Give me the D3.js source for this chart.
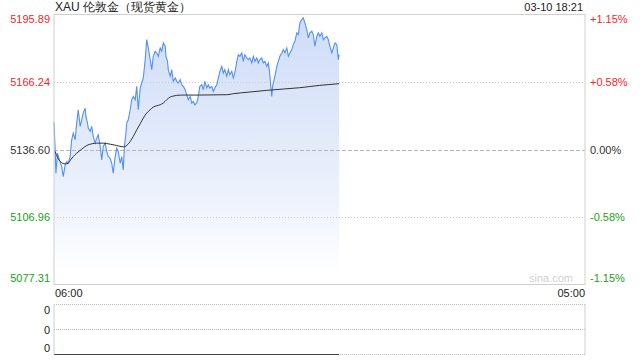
<!DOCTYPE html>
<html><head><meta charset="utf-8">
<script src="https://cdn.jsdelivr.net/npm/d3@7"></script>
<style>body{margin:0;background:#fff}svg{display:block;font-family:"Liberation Sans",Arial,sans-serif}</style>
</head><body><svg id="c" width="640" height="360"></svg>
<script>
const title = "XAU 伦敦金（现货黄金）";
const stamp = "03-10 18:21";
const priceTicks = [5195.89, 5166.24, 5136.60, 5106.96, 5077.31];
const pctTicks = ["+1.15%", "+0.58%", "0.00%", "-0.58%", "-1.15%"];
const timeLabels = ["06:00", "05:00"];
const volTicks = ["0", "0", "0"];
// minutes after 06:00
const priceMinutes = [0,3,5,9,14,20,24,29,33,37,42,46,50,55,59,63,68,72,76,81,83,87,89,94,98,102,107,111,115,120,124,128,133,137,141,146,150,154,159,163,167,172,176,180,183,187,189,193,198,202,206,211,215,219,224,228,232,237,241,245,250,254,258,263,267,271,276,280,284,289,291,295,297,302,306,310,315,319,323,328,332,336,341,345,349,354,358,362,366,371,375,379,384,388,392,397,401,405,410,414,418,423,427,431,436,440,444,449,453,457,462,466,470,475,479,483,488,492,496,501,505,509,514,518,522,527,531,535,540,544,548,553,557,560,563,566,568,572,574,579,583,587,592,596,600,605,609,613,618,622,626,631,635,639,644,648,652,657,661,665,670,674,678,683,687,691,696,700,704,709,713,717,722,726,730,735,739,741];
const priceValues = [5148.63,5136.44,5126.17,5134.98,5132.04,5129.10,5124.70,5129.84,5131.31,5130.57,5133.51,5140.85,5143.78,5140.85,5148.19,5154.06,5146.72,5149.65,5152.59,5154.79,5151.12,5148.19,5145.98,5144.51,5146.72,5142.31,5139.38,5141.58,5143.05,5137.91,5132.04,5137.91,5139.38,5135.71,5133.51,5132.77,5130.57,5126.17,5133.51,5137.18,5135.71,5130.57,5133.51,5127.64,5137.91,5143.78,5148.19,5149.65,5154.06,5158.46,5159.93,5158.46,5164.33,5154.06,5163.60,5165.80,5168.00,5176.07,5184.88,5181.21,5176.07,5171.67,5177.54,5179.74,5179.01,5177.54,5181.21,5179.74,5183.41,5181.94,5177.54,5175.34,5171.67,5168.73,5171.67,5166.53,5168.00,5166.53,5165.80,5167.27,5165.06,5164.33,5162.86,5160.66,5158.46,5159.93,5156.99,5157.72,5156.26,5156.99,5159.93,5164.33,5165.06,5162.86,5166.53,5163.60,5165.06,5163.60,5164.33,5162.13,5163.60,5165.06,5168.00,5170.93,5173.14,5170.20,5171.67,5168.73,5171.67,5169.47,5170.93,5168.00,5170.20,5175.34,5178.27,5177.54,5179.01,5175.34,5178.27,5176.80,5176.07,5176.80,5174.60,5177.54,5175.34,5176.80,5174.60,5176.07,5176.80,5174.60,5175.34,5173.14,5174.60,5170.93,5165.06,5159.93,5164.33,5167.27,5168.73,5173.14,5175.34,5177.54,5179.01,5180.47,5179.01,5181.21,5177.54,5179.01,5180.47,5182.68,5184.14,5187.81,5187.08,5192.22,5193.68,5194.42,5192.22,5189.28,5185.61,5187.81,5188.55,5187.08,5181.94,5186.35,5187.81,5186.35,5187.83,5184.88,5185.63,5186.33,5184.88,5181.93,5179.02,5181.22,5183.42,5182.68,5176.07,5178.27];
const avgMinutes = [3,16,29,37,43,50,59,72,85,98,111,128,146,163,180,189,198,206,215,224,232,241,250,258,267,276,284,293,302,310,319,332,379,449,466,509,553,596,639,691,741];
const avgValues = [5135.71,5131.31,5130.28,5130.57,5132.04,5133.51,5134.98,5136.74,5138.35,5139.09,5139.38,5139.38,5138.94,5138.35,5137.76,5138.35,5140.11,5142.31,5145.25,5147.89,5150.39,5152.59,5154.06,5155.23,5155.82,5156.26,5156.99,5158.46,5159.63,5160.07,5160.37,5160.51,5160.51,5160.66,5161.10,5161.84,5162.57,5163.16,5163.74,5164.77,5165.50];

const red = "#f0282d", green = "#1a9f1a", dark = "#333";
const colorFor = i => i < 2 ? red : (i === 2 ? dark : green);

const svg = d3.select("#c");
const L = 54, R = 585, T = 14.5, B = 284.5;
const x = d3.scaleLinear().domain([0, 1380]).range([L, R]);
const y = d3.scaleLinear().domain([priceTicks[4], priceTicks[0]]).range([B, T]);

const defs = svg.append("defs");
const g = defs.append("linearGradient").attr("id", "fillg").attr("gradientUnits", "userSpaceOnUse")
  .attr("x1", 0).attr("x2", 0).attr("y1", T).attr("y2", B);
g.append("stop").attr("offset", 0).attr("stop-color", "#cedcf7");
g.append("stop").attr("offset", 0.5).attr("stop-color", "#e4ecfb");
g.append("stop").attr("offset", 0.75).attr("stop-color", "#f1f5fe");
g.append("stop").attr("offset", 0.95).attr("stop-color", "#ffffff");

const price = priceMinutes.map((m, i) => ({m, v: priceValues[i]}));
const avg = avgMinutes.map((m, i) => ({m, v: avgValues[i]}));

svg.append("path").datum(price)
  .attr("d", d3.area().x(d => x(d.m)).y0(B).y1(d => y(d.v)))
  .attr("fill", "url(#fillg)");

// gridlines
priceTicks.slice(1, 4).forEach((t, i) => {
  svg.append("line").attr("x1", L).attr("x2", R).attr("y1", Math.round(y(t)) + 0.5).attr("y2", Math.round(y(t)) + 0.5)
    .attr("stroke", i === 1 ? "#b8b8b8" : "#cccccc")
    .attr("stroke-dasharray", i === 1 ? "4,2" : "1,2");
});

svg.append("path").datum(price)
  .attr("d", d3.line().x(d => x(d.m)).y(d => y(d.v)))
  .attr("fill", "none").attr("stroke", "#5490f0").attr("stroke-width", 1.1);

svg.append("path").datum(avg)
  .attr("d", d3.line().curve(d3.curveMonotoneX).x(d => x(d.m)).y(d => y(d.v)))
  .attr("fill", "none").attr("stroke", "#333").attr("stroke-width", 1);

// frame
svg.append("rect").attr("x", L).attr("y", T).attr("width", R - L).attr("height", B - T)
  .attr("fill", "none").attr("stroke", "#cfcfcf");

// axis labels
const n = priceTicks.length;
const labelY = (t, i) => i === 0 ? y(t) + 8.5 : (i === n - 1 ? y(t) - 2.5 : y(t) + 4);
svg.selectAll(".ly").data(priceTicks).join("text")
  .attr("x", L - 4).attr("y", (d, i) => labelY(d, i))
  .attr("text-anchor", "end").attr("font-size", 11).attr("fill", (d, i) => colorFor(i))
  .text(d => d.toFixed(2));
svg.selectAll(".ry").data(pctTicks).join("text")
  .attr("x", R + 5).attr("y", (d, i) => labelY(priceTicks[i], i))
  .attr("font-size", 11).attr("fill", (d, i) => colorFor(i))
  .text(d => d);

svg.append("text").attr("x", L + 1).attr("y", 297).attr("font-size", 11).attr("fill", "#222").text(timeLabels[0]);
svg.append("text").attr("x", R).attr("y", 297).attr("text-anchor", "end").attr("font-size", 11).attr("fill", "#222").text(timeLabels[1]);

svg.append("text").attr("x", L + 1).attr("y", 11).attr("font-size", 12).attr("fill", "#222").text(title);
svg.append("text").attr("x", R - 2).attr("y", 11).attr("text-anchor", "end").attr("font-size", 11).attr("fill", "#222").text(stamp);
svg.append("text").attr("x", R - 12).attr("y", 282).attr("text-anchor", "end").attr("font-size", 11).attr("fill", "#d2d2d2").text("sina.com");

// volume panel
const VT = 304.5, VB = 354.5;
const vy = d3.scalePoint().domain(d3.range(volTicks.length)).range([VT, VB]);
svg.append("line").attr("x1", L).attr("x2", R).attr("y1", VT).attr("y2", VT).attr("stroke", "#bbb").attr("stroke-dasharray", "1,1");
svg.append("line").attr("x1", L).attr("x2", R).attr("y1", vy(1)).attr("y2", vy(1)).attr("stroke", "#bbb").attr("stroke-dasharray", "1,1");
svg.append("line").attr("x1", L).attr("x2", R).attr("y1", VB).attr("y2", VB).attr("stroke", "#bbb").attr("stroke-dasharray", "1,1");
svg.append("line").attr("x1", L).attr("x2", x(priceMinutes[priceMinutes.length - 1])).attr("y1", VB).attr("y2", VB).attr("stroke", "#444");
svg.append("line").attr("x1", L).attr("x2", L).attr("y1", VT).attr("y2", VB).attr("stroke", "#cfcfcf");
svg.append("line").attr("x1", R).attr("x2", R).attr("y1", VT).attr("y2", VB).attr("stroke", "#cfcfcf");
svg.selectAll(".vl").data(volTicks).join("text")
  .attr("x", L - 4).attr("y", (d, i) => i === 0 ? vy(i) + 9.5 : (i === 2 ? vy(i) - 2.5 : vy(i) + 4))
  .attr("text-anchor", "end").attr("font-size", 11).attr("fill", "#222").text(d => d);
</script></body></html>
